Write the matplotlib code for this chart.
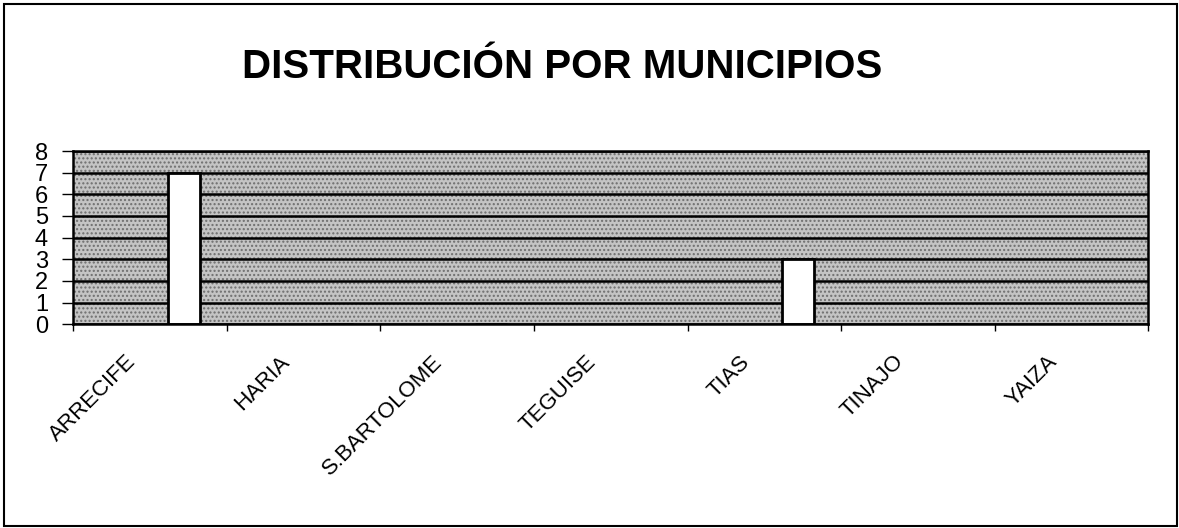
import matplotlib
matplotlib.use("Agg")
import matplotlib.pyplot as plt
import matplotlib.transforms as mtransforms
from matplotlib.patches import Rectangle
import numpy as np

# data
municipios = ["ARRECIFE", "HARIA", "S.BARTOLOME", "TEGUISE", "TIAS", "TINAJO", "YAIZA"]
valores = [7, 0, 0, 0, 3, 0, 0]
y_ticks = [0, 1, 2, 3, 4, 5, 6, 7, 8]
titulo = "DISTRIBUCIÓN POR MUNICIPIOS"

plt.rcParams["font.family"] = ["Liberation Sans", "DejaVu Sans"]

fig = plt.figure(figsize=(11.79, 5.28), dpi=100)
fig.patch.set_facecolor("white")

# outer chart border
fig.patches.append(Rectangle((0.003, 0.004), 0.995, 0.988, transform=fig.transFigure,
                             fill=False, edgecolor="black", linewidth=1.5))

ax = fig.add_axes([0.062, 0.386, 0.912, 0.328])

# stippled plot area
ax.set_facecolor("#c4c4c4")
bg = Rectangle((0, 0), 1, 1, transform=ax.transAxes, facecolor="#c4c4c4",
               edgecolor="#6e6e6e", hatch="....", linewidth=0, zorder=0)
ax.add_patch(bg)

x = np.arange(len(municipios))
ax.bar(x + 0.72, valores, width=0.21, color="white", edgecolor="black",
       linewidth=2, zorder=3)

for v in y_ticks:
    ax.axhline(v, color="black", linewidth=1.8, zorder=2)

ax.set_xlim(0, len(municipios))
ax.set_ylim(0, 8)
ax.set_yticks(y_ticks)
ax.set_yticklabels([str(v) for v in y_ticks], fontsize=17)
ax.tick_params(axis="y", length=8, width=1, pad=10)

ax.set_xticks(np.arange(len(municipios) + 1))
ax.set_xticklabels([])
ax.tick_params(axis="x", length=5, width=1, direction="out")

# rotated category labels
shift = mtransforms.ScaledTranslation(-0.25, -0.27, fig.dpi_scale_trans)
for i, name in enumerate(municipios):
    ax.text(i + 0.5, 0, name, rotation=45, ha="right", va="top",
            rotation_mode="anchor", fontsize=16,
            transform=ax.transData + shift)

for s in ax.spines.values():
    s.set_linewidth(1.8)
    s.set_color("black")
    s.set_zorder(4)

fig.text(0.477, 0.874, titulo, ha="center", va="center", fontsize=29,
         fontweight="bold")

fig.savefig("out.png", dpi=100)
